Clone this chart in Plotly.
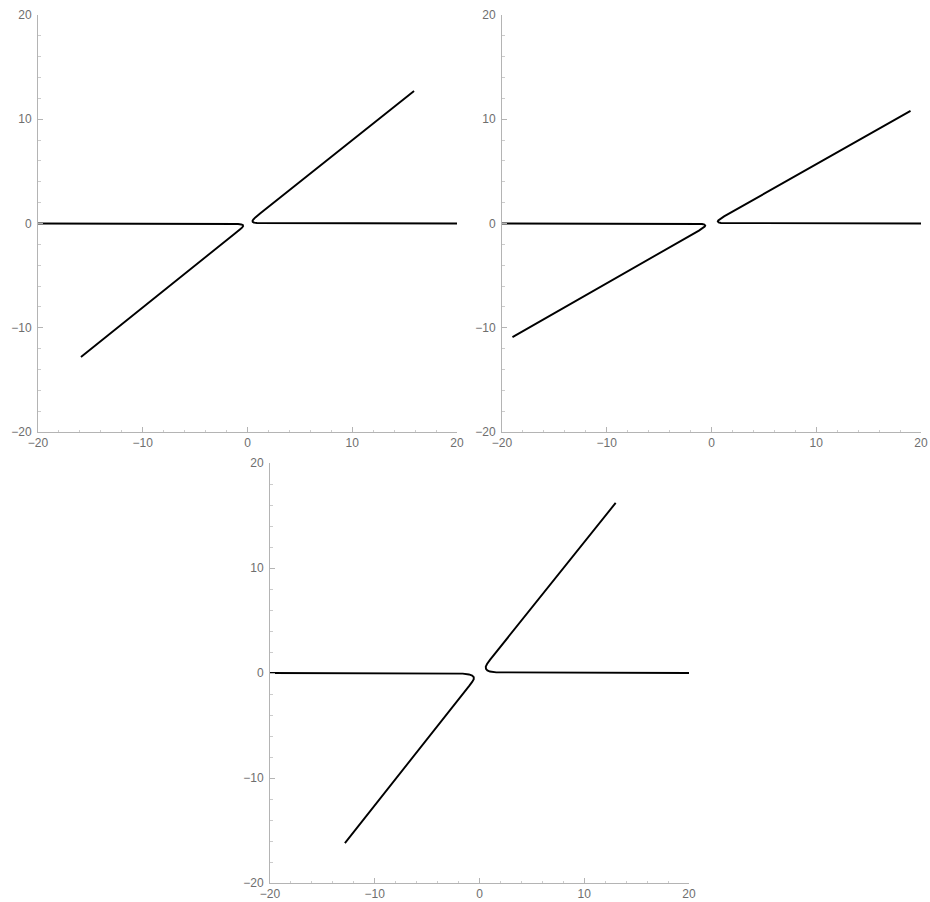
import plotly.graph_objects as go

# each panel has two branches (left, right)
p1_left_x = [-20, -3, -1.5, -0.9, -0.6, -0.45, -0.42, -0.5, -0.7, -1.2, -15.9]
p1_left_y = [0, 0, -0.02, -0.05, -0.09, -0.15, -0.25, -0.38, -0.55, -0.96, -12.8]
p1_right_x = [20, 3, 1.5, 0.9, 0.6, 0.5, 0.48, 0.55, 0.75, 1.2, 15.9]
p1_right_y = [0, 0, 0.02, 0.05, 0.09, 0.15, 0.25, 0.38, 0.58, 0.96, 12.7]

p2_left_x = [-20, -3, -1.5, -0.9, -0.68, -0.6, -0.65, -0.85, -1.2, -19.0]
p2_left_y = [0, 0, -0.02, -0.05, -0.1, -0.2, -0.3, -0.47, -0.68, -10.9]
p2_right_x = [20, 3, 1.5, 0.9, 0.68, 0.6, 0.65, 0.85, 1.2, 19.0]
p2_right_y = [0, 0, 0.02, 0.05, 0.1, 0.2, 0.3, 0.47, 0.68, 10.8]

p3_left_x = [-20, -4, -2.5, -1.6, -1.0, -0.7, -0.55, -0.55, -0.7, -1.0, -12.85]
p3_left_y = [0, 0, -0.02, -0.06, -0.14, -0.25, -0.4, -0.6, -0.85, -1.25, -16.2]
p3_right_x = [20, 4, 2.5, 1.6, 1.0, 0.75, 0.62, 0.6, 0.72, 1.0, 13.0]
p3_right_y = [0, 0, 0.02, 0.06, 0.14, 0.25, 0.4, 0.6, 0.85, 1.25, 16.2]

tick_vals = [-20, -10, 0, 10, 20]

panels = [
    (p1_left_x, p1_left_y, p1_right_x, p1_right_y),
    (p2_left_x, p2_left_y, p2_right_x, p2_right_y),
    (p3_left_x, p3_left_y, p3_right_x, p3_right_y),
]

W, H = 930, 902
# pixel boxes (left, right, top, bottom) of each panel
boxes = [(38, 457, 15, 432), (502, 921, 15, 432), (270, 689, 463, 883)]

fig = go.Figure()
for i, (lx, ly, rx, ry) in enumerate(panels):
    ax = "" if i == 0 else str(i + 1)
    for xs, ys in ((lx, ly), (rx, ry)):
        fig.add_trace(go.Scatter(
            x=xs, y=ys, mode="lines",
            line=dict(color="black", width=1.9),
            xaxis="x" + ax, yaxis="y" + ax,
            showlegend=False, hoverinfo="skip",
        ))

axis_style = dict(
    range=[-20, 20],
    tickvals=tick_vals,
    showgrid=False,
    zeroline=False,
    showline=True,
    linecolor="#b4b4b4",
    linewidth=1,
    ticks="inside",
    ticklen=5,
    tickcolor="#b4b4b4",
    minor=dict(dtick=2, ticks="inside", ticklen=2.5, tickcolor="#cccccc", showgrid=False),
    tickfont=dict(family="Liberation Sans, Arial", size=12, color="#6e6e6e"),
    ticklabeloverflow="allow",
    automargin=False,
    fixedrange=True,
)

layout = dict(
    width=W, height=H,
    margin=dict(l=0, r=0, t=0, b=0),
    paper_bgcolor="white",
    plot_bgcolor="white",
)
for i, (x0, x1, y0, y1) in enumerate(boxes):
    ax = "" if i == 0 else str(i + 1)
    layout["xaxis" + ax] = dict(
        axis_style,
        domain=[x0 / W, x1 / W],
        anchor="y" + ax,
        ticklabelstandoff=0,
    )
    layout["yaxis" + ax] = dict(
        axis_style,
        domain=[1 - y1 / H, 1 - y0 / H],
        anchor="x" + ax,
        ticklabelstandoff=3,
    )

fig.update_layout(**layout)
# drop the default body margin so the figure fills the window exactly
fig.write_html(
    "out.html",
    config={"displayModeBar": False},
    post_script="document.body.style.margin='0';document.body.style.overflow='hidden';",
)
